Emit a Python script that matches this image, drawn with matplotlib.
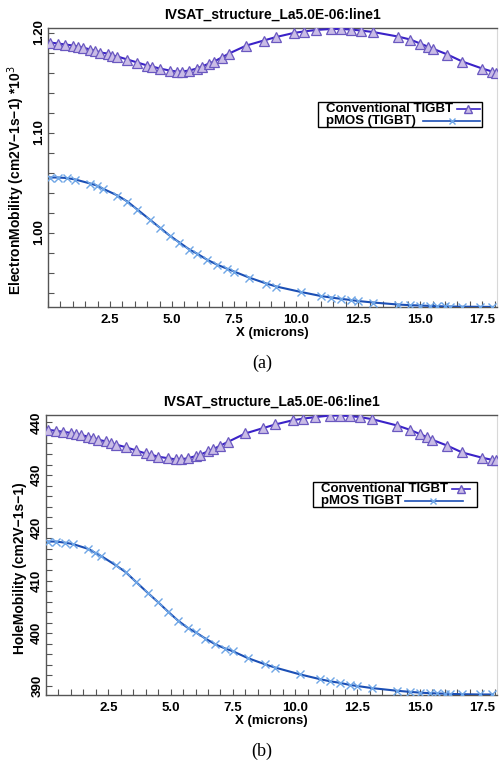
import matplotlib
matplotlib.use("Agg")
import matplotlib.pyplot as plt
from matplotlib.ticker import MultipleLocator, FormatStrFormatter
from matplotlib.lines import Line2D
from matplotlib.patches import Rectangle

plt.rcParams['font.family'] = ['Liberation Sans', 'DejaVu Sans']

# ---------------- data ----------------
title = "IVSAT_structure_La5.0E-06:line1"

# Conventional TIGBT mesh points (microns)
x_conv = [0.08, 0.4, 0.7, 1.0, 1.2, 1.4, 1.7, 1.9, 2.1, 2.4, 2.6, 2.8, 3.2, 3.6,
          4.0, 4.2, 4.5, 4.9, 5.2, 5.4, 5.7, 6.0, 6.2, 6.5, 6.7, 7.0, 7.3, 8.0,
          8.7, 9.2, 9.9, 10.3, 10.8, 11.4, 11.8, 12.2, 12.6, 13.1, 14.1, 14.6,
          15.0, 15.3, 15.5, 16.1, 16.7, 17.5, 17.9, 18.05]
# Electron mobility (x10^3 cm2/Vs), conventional
e_conv = [1.190, 1.189, 1.188, 1.187, 1.186, 1.185, 1.183, 1.182, 1.180, 1.179,
          1.177, 1.176, 1.173, 1.170, 1.167, 1.166, 1.164, 1.162, 1.161, 1.161,
          1.162, 1.164, 1.166, 1.169, 1.171, 1.175, 1.179, 1.187, 1.192, 1.1955,
          1.1995, 1.201, 1.2025, 1.2035, 1.2035, 1.203, 1.202, 1.2005, 1.196,
          1.193, 1.189, 1.186, 1.184, 1.178, 1.171, 1.164, 1.161, 1.160]
# Hole mobility (cm2/Vs), conventional
h_conv = [438.6, 438.4, 438.2, 438.0, 437.8, 437.6, 437.3, 437.1, 436.7, 436.4,
          436.0, 435.8, 435.3, 434.7, 434.1, 433.9, 433.5, 433.2, 433.0, 433.0,
          433.2, 433.6, 433.9, 434.5, 434.9, 435.6, 436.3, 437.9, 438.9, 439.6,
          440.4, 440.7, 441.0, 441.3, 441.3, 441.2, 441.0, 440.6, 439.4, 438.6,
          437.8, 437.2, 436.7, 435.6, 434.3, 433.3, 432.9, 432.8]

# pMOS TIGBT mesh points (microns)
x_pmos = [0.08, 0.4, 0.75, 1.1, 1.7, 1.96, 2.2, 2.8, 3.2, 3.6, 4.1, 4.5, 4.9,
          5.3, 5.7, 6.0, 6.4, 6.8, 7.2, 7.5, 8.1, 8.8, 9.2, 10.2, 11.0, 11.4,
          11.8, 12.2, 12.5, 13.1, 14.1, 14.6, 15.0, 15.4, 15.7, 16.0, 16.2,
          16.7, 17.4, 17.9]
e_pmos = [1.055, 1.055, 1.0545, 1.053, 1.049, 1.047, 1.044, 1.037, 1.031, 1.023,
          1.013, 1.005, 0.997, 0.990, 0.983, 0.979, 0.973, 0.968, 0.964, 0.961,
          0.955, 0.949, 0.946, 0.9405, 0.9365, 0.935, 0.9337, 0.9325, 0.9315,
          0.930, 0.928, 0.9273, 0.927, 0.9266, 0.9263, 0.9261, 0.926, 0.9258,
          0.9257, 0.9256]
h_pmos = [417.4, 417.4, 417.2, 416.9, 416.0, 415.3, 414.7, 412.9, 411.6, 409.8,
          407.6, 405.9, 404.1, 402.4, 401.0, 400.2, 399.0, 397.9, 397.1, 396.6,
          395.3, 394.1, 393.5, 392.2, 391.3, 390.9, 390.6, 390.2, 390.0, 389.6,
          389.1, 388.9, 388.75, 388.65, 388.6, 388.55, 388.5, 388.45, 388.4,
          388.4]

labels_a = ["Conventional TIGBT", "pMOS (TIGBT)"]
labels_b = ["Conventional TIGBT", "pMOS TIGBT"]
ylabel_a = "ElectronMobility (cm2V\u22121s\u22121) *10$^3$"
ylabel_b = "HoleMobility (cm2V\u22121s\u22121)"
xlabel = "X (microns)"
xticks = [2.5, 5.0, 7.5, 10.0, 12.5, 15.0, 17.5]

# ---------------- style ----------------
conv_line = "#3a22c8"
conv_mark_edge = "#6a58c0"
conv_mark_face = "#c9bce6"
pmos_line = "#1b4fb5"
pmos_mark = "#6fa6e6"

W, H = 504, 762
fig = plt.figure(figsize=(W/100, H/100), dpi=100)
ax1 = fig.add_axes([48/W, 1-307/H, 449/W, 279/H])
ax2 = fig.add_axes([46/W, 1-695/H, 451/W, 280/H])


def fx(px):
    return px / W


def fy(py):
    return 1 - py / H


def legend_box(box, rows, labels):
    # box: (left, top, right, bottom) in pixels; rows: (text_x, y, h0, h1, mx)
    l, t, r, b = box
    fig.add_artist(Rectangle((fx(l), fy(b)), fx(r) - fx(l), fy(t) - fy(b),
                             transform=fig.transFigure, fill=True,
                             facecolor='white', edgecolor='black', lw=1.0,
                             zorder=10))
    styles = [dict(color=conv_line, lw=1.2, marker='^', ms=5.5,
                   mfc=conv_mark_face, mec=conv_mark_edge),
              dict(color=pmos_line, lw=1.2, marker='x', ms=5, mec=pmos_mark)]
    for (tx, y, h0, h1, mx), lab, st in zip(rows, labels, styles):
        fig.text(fx(tx), fy(y), lab, fontsize=9.5, fontweight='bold',
                 va='center', ha='left', zorder=11)
        fig.add_artist(Line2D([fx(h0), fx(h1)], [fy(y), fy(y)],
                              transform=fig.transFigure, color=st['color'],
                              lw=st['lw'], zorder=11))
        mk = {k: v for k, v in st.items() if k not in ('color', 'lw')}
        fig.add_artist(Line2D([fx(mx)], [fy(y)], transform=fig.transFigure,
                              ls='none', zorder=12, **mk))


def draw(ax, yc, yp, ylims, ymaj, ymin, fmt, ylabel, lab_xy):
    ax.plot(x_conv, yc, color=conv_line, lw=1.5, marker='^', ms=6.5,
            mfc=conv_mark_face, mec=conv_mark_edge, mew=0.9, zorder=3)
    ax.plot(x_pmos, yp, color=pmos_line, lw=1.5, marker='x', ms=5.5,
            mec=pmos_mark, mew=1.0, zorder=3)
    ax.set_xlim(0, 18.1)
    ax.set_ylim(*ylims)
    ax.set_xticks(xticks)
    ax.xaxis.set_major_formatter(FormatStrFormatter('%.1f'))
    ax.xaxis.set_minor_locator(MultipleLocator(0.5))
    ax.yaxis.set_major_locator(MultipleLocator(ymaj))
    ax.yaxis.set_minor_locator(MultipleLocator(ymin))
    ax.yaxis.set_major_formatter(FormatStrFormatter(fmt))
    ax.tick_params(which='both', direction='in', length=4, width=0.8,
                   color='#555555', top=False, right=False, labelsize=9.5)
    for lab in ax.get_xticklabels():
        lab.set_fontweight('bold')
    for lab in ax.get_yticklabels():
        lab.set_fontweight('bold')
        lab.set_rotation(90)
        lab.set_va('center')
    ax.tick_params(axis='y', pad=2)
    ax.tick_params(axis='x', pad=5)
    for s in ['left', 'bottom', 'top']:
        ax.spines[s].set_color('#555555')
        ax.spines[s].set_linewidth(1.0)
    ax.spines['right'].set_color('#d8d8d8')
    ax.set_xlabel(xlabel, fontsize=9.5, fontweight='bold', labelpad=1)
    ax.set_ylabel(ylabel, fontsize=10, fontweight='bold')
    ax.yaxis.set_label_coords(*lab_xy)
    ax.set_title(title, fontsize=10, fontweight='bold', pad=7)


draw(ax1, e_conv, e_pmos, (0.9255, 1.2045), 0.10, 0.02, '%.2f', ylabel_a,
     (-0.047, 0.455))
draw(ax2, h_conv, h_pmos, (388.3, 441.4), 10, 2, '%d', ylabel_b,
     (-0.042, 0.454))

legend_box((318, 102, 482, 127),
           [(326, 108.5, 457, 480, 468), (326, 121, 423, 480, 452)], labels_a)
legend_box((313, 482, 477, 507),
           [(321, 488.5, 452, 470, 461), (321, 501, 405, 463, 433)], labels_b)

fig.text(262/W, 1-363/H, "(a)", family=['Liberation Serif', 'DejaVu Serif'],
         fontsize=13, ha='center', va='center')
fig.text(262/W, 1-751/H, "(b)", family=['Liberation Serif', 'DejaVu Serif'],
         fontsize=13, ha='center', va='center')

fig.savefig("out.png", dpi=100)
